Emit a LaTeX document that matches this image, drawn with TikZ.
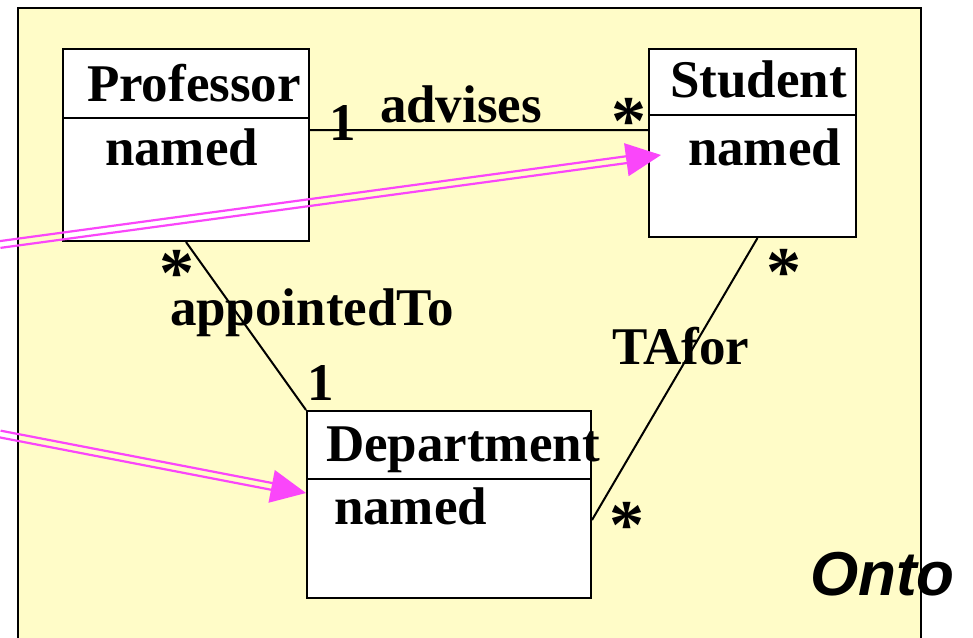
\documentclass[tikz,border=0pt]{standalone}
\usepackage{fontspec}
\setmainfont{Liberation Serif}
\newfontfamily\ontofont{Liberation Sans}
\usetikzlibrary{calc,arrows.meta}
\definecolor{pkgyellow}{RGB}{255,252,200}
\definecolor{linkpink}{RGB}{250,70,250}

\begin{document}
\begin{tikzpicture}[
					%Environment config
					x=1pt, y=-1pt,
					font=\fontsize{53}{60}\selectfont\bfseries,
					line width=2pt,
					%Environment styles
					ClassBox/.style={draw, fill=white, anchor=north west, inner sep=0pt},
					Label/.style={inner sep=0pt, anchor=base west},
					Mult/.style={inner sep=0pt, anchor=base},
					Star/.style={Mult, font=\fontsize{70}{76}\selectfont\bfseries},
					ArrowLine/.style={draw=linkpink, line width=2.2pt}
					]
					\clip (0,0) rectangle (973,637);
					\fill[pkgyellow, draw=black] (18,8) rectangle (921,660);
					
					%classes
					\path
					(62,48) node[ClassBox, minimum width=246pt, minimum height=192pt](Prof){}
					(648,48) node[ClassBox, minimum width=207pt, minimum height=188pt](Stud){}
					(306,410) node[ClassBox, minimum width=284pt, minimum height=187pt](Dept){};
					
					\draw
					(Prof.west |- 0,118) -- (Prof.east |- 0,118)
					(Stud.west |- 0,115) -- (Stud.east |- 0,115)
					(Dept.west |- 0,479) -- (Dept.east |- 0,479);
					
					\path
					(86,101) node[Label](ProfName){Professor}
					(104,165) node[Label](ProfAttr){named}
					(669,97) node[Label](StudName){Student}
					(687,165) node[Label](StudAttr){named}
					(325,461) node[Label](DeptName){Department}
					(333,524) node[Label](DeptAttr){named};
					
					%associations
					\draw
					(Prof.east |- 0,130) -- (Stud.west |- 0,130)
					(Prof.south) -- (Dept.north west)
					([xshift=5pt]Stud.south) -- (Dept.east |- 0,520);
					
					\path
					(379,122) node[Label](Advises){advises}
					(169,325) node[Label](Appointed){appointedTo}
					(611,364) node[Label](TAfor){TAfor}
					(342.5,140) node[Mult](MultA){1}
					(628.5,144.5) node[Star](MultB){*}
					(176.5,296.5) node[Star](MultC){*}
					(321,400) node[Mult](MultD){1}
					(783.5,295.5) node[Star](MultE){*}
					(626.5,548.5) node[Star](MultF){*}
					(809,595) node[Label, font=\fontsize{62}{70}\selectfont\ontofont\bfseries\itshape](Onto){Onto};
					
					%mapping arrows
					\coordinate (Src1) at (0,244.5);
					\coordinate (Tip1) at (661,155);
					\coordinate (Src2) at (0,434);
					\coordinate (Tip2) at (Dept.west |- 0,493);
					\foreach \s/\t in {Src1/Tip1, Src2/Tip2} {
						\coordinate (Base) at ($(\t)!34pt!(\s)$);
						\draw[ArrowLine] ($(\s)!3.4pt!90:(Base)$) -- ($(Base)!3.4pt!-90:(\s)$);
						\draw[ArrowLine] ($(\s)!3.4pt!-90:(Base)$) -- ($(Base)!3.4pt!90:(\s)$);
						\draw[ArrowLine, line width=1.5pt, fill=linkpink, -{Triangle[length=35pt,width=33pt]}] (Base) -- (\t);
					}
				\end{tikzpicture}
\end{document}
